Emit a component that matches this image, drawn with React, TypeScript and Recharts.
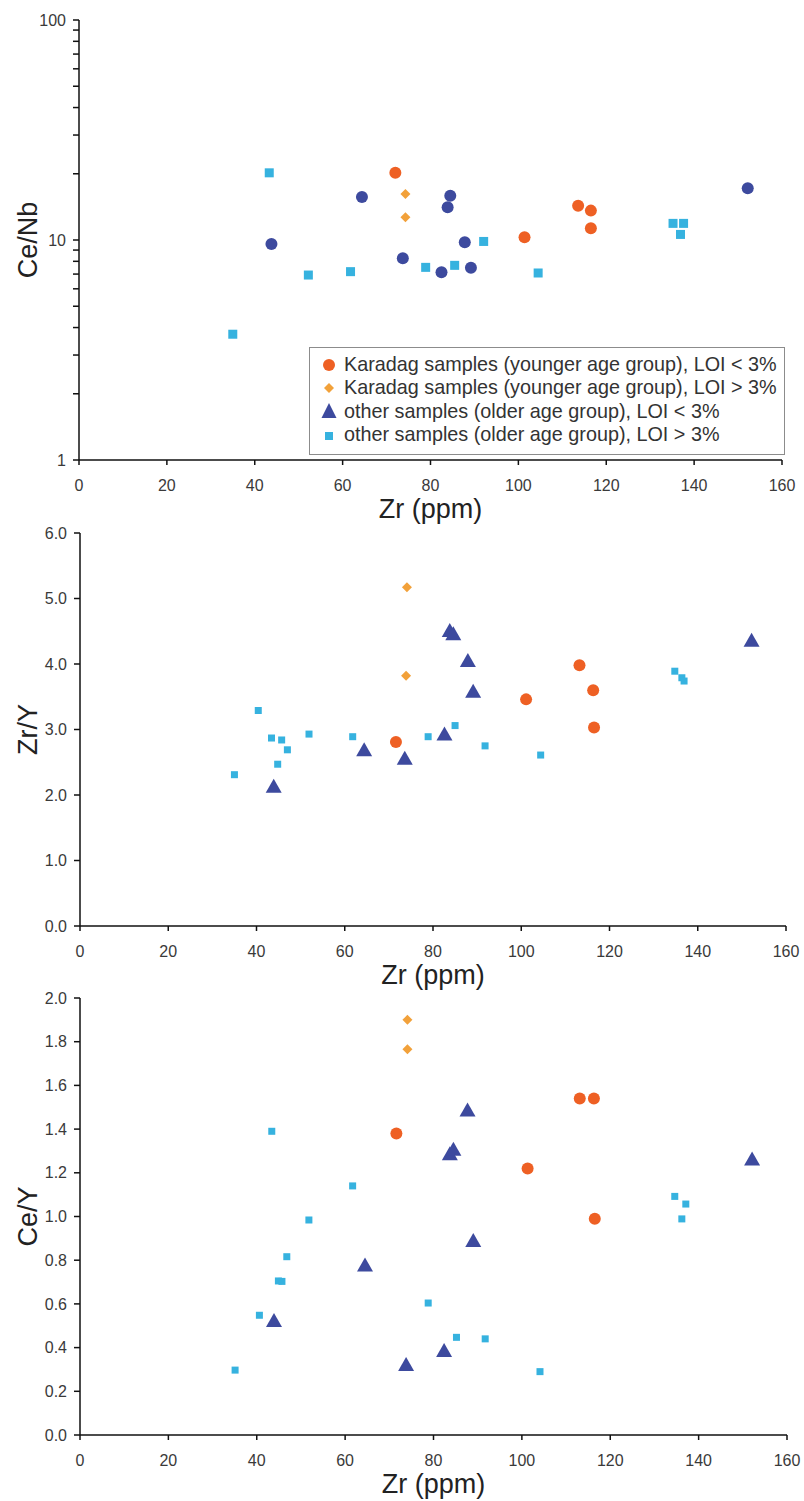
import { ScatterChart, Scatter, XAxis, YAxis, Legend, Label } from "recharts";

const font = "Arial, 'Liberation Sans', sans-serif";

const colors = {
  karadagLow: "#EE6024", // Karadag, LOI < 3%
  karadagHigh: "#F2A13A", // Karadag, LOI > 3%
  otherLow: "#3D4A9E", // other samples, LOI < 3%
  otherHigh: "#36B2DF", // other samples, LOI > 3%
};

const legendLabels = [
  "Karadag samples (younger age group), LOI < 3%",
  "Karadag samples (younger age group), LOI > 3%",
  "other samples (older age group), LOI < 3%",
  "other samples (older age group), LOI > 3%",
];

const zrTicks = [0, 20, 40, 60, 80, 100, 120, 140, 160];
const ceNbTicks = [1, 2, 3, 4, 5, 6, 7, 8, 9, 10, 20, 30, 40, 50, 60, 70, 80, 90, 100];
const zrYTicks = [0, 1, 2, 3, 4, 5, 6];
const ceYTicks = [0, 0.2, 0.4, 0.6, 0.8, 1.0, 1.2, 1.4, 1.6, 1.8, 2.0];

type Pt = [number, number]; // [Zr ppm, ratio]

// Ce/Nb vs Zr
const ceNbKaradagLow: Pt[] = [[72.0, 20.2], [101.4, 10.3], [113.6, 14.3], [116.5, 13.6], [116.5, 11.3]];
const ceNbKaradagHigh: Pt[] = [[74.3, 16.2], [74.3, 12.7]];
const ceNbOtherLow: Pt[] = [
  [43.8, 9.6], [64.4, 15.7], [73.7, 8.26], [82.5, 7.13], [83.9, 14.1],
  [84.5, 15.9], [87.8, 9.77], [89.2, 7.48], [152.2, 17.2],
];
const ceNbOtherHigh: Pt[] = [
  [35.0, 3.73], [43.3, 20.2], [52.2, 6.93], [61.8, 7.18], [78.9, 7.51], [85.5, 7.67],
  [92.1, 9.85], [104.5, 7.08], [135.2, 11.9], [137.6, 11.9], [136.9, 10.6],
];

// Zr/Y vs Zr
const zrYKaradagLow: Pt[] = [[71.6, 2.81], [101.1, 3.46], [113.2, 3.98], [116.3, 3.6], [116.5, 3.03]];
const zrYKaradagHigh: Pt[] = [[74.1, 5.17], [73.9, 3.82]];
const zrYOtherLow: Pt[] = [
  [43.9, 2.14], [64.4, 2.7], [73.6, 2.57], [82.6, 2.94], [83.8, 4.52],
  [84.6, 4.47], [87.9, 4.06], [89.1, 3.59], [152.2, 4.37],
];
const zrYOtherHigh: Pt[] = [
  [35.0, 2.31], [40.4, 3.29], [43.4, 2.87], [44.8, 2.47], [45.7, 2.84], [47.0, 2.69],
  [51.9, 2.93], [61.8, 2.89], [78.9, 2.89], [85.0, 3.06], [91.8, 2.75], [104.4, 2.61],
  [134.8, 3.89], [136.4, 3.79], [136.9, 3.74],
];

// Ce/Y vs Zr
const ceYKaradagLow: Pt[] = [[71.6, 1.38], [101.3, 1.22], [113.1, 1.54], [116.3, 1.54], [116.5, 0.99]];
const ceYKaradagHigh: Pt[] = [[74.1, 1.9], [74.1, 1.765]];
const ceYOtherLow: Pt[] = [
  [43.9, 0.526], [64.5, 0.78], [73.8, 0.325], [82.4, 0.389], [83.7, 1.29],
  [84.5, 1.31], [87.7, 1.49], [89.0, 0.892], [152.1, 1.266],
];
const ceYOtherHigh: Pt[] = [
  [35.1, 0.297], [40.6, 0.548], [43.4, 1.39], [44.9, 0.705], [45.7, 0.703], [46.8, 0.816],
  [51.8, 0.984], [61.7, 1.14], [78.8, 0.604], [85.2, 0.447], [91.7, 0.44], [104.1, 0.29],
  [134.6, 1.092], [136.2, 0.989], [137.1, 1.057],
];

const toRows = (pts: Pt[]) => pts.map(([x, y]) => ({ x, y }));

// marker shapes
const circleShape = (r: number, fill: string) => (p: any) => (
  <circle cx={p.cx} cy={p.cy} r={r} fill={fill} />
);
const diamondShape = (s: number, fill: string) => (p: any) => (
  <polygon
    points={`${p.cx},${p.cy - s} ${p.cx + s},${p.cy} ${p.cx},${p.cy + s} ${p.cx - s},${p.cy}`}
    fill={fill}
  />
);
const triangleShape = (w: number, h: number, fill: string) => (p: any) => (
  <polygon
    points={`${p.cx},${p.cy - h / 2} ${p.cx + w / 2},${p.cy + h / 2} ${p.cx - w / 2},${p.cy + h / 2}`}
    fill={fill}
  />
);
const squareShape = (s: number, fill: string) => (p: any) => (
  <rect x={p.cx - s / 2} y={p.cy - s / 2} width={s} height={s} fill={fill} />
);

const legendMarkers = [
  <circle cx={11} cy={11} r={6} fill={colors.karadagLow} />,
  <polygon points="11,6 16,11 11,16 6,11" fill={colors.karadagHigh} />,
  <polygon points="11,3 18.5,18 3.5,18" fill={colors.otherLow} />,
  <rect x={7} y={8} width={8} height={8} fill={colors.otherHigh} />,
];

function LegendBox() {
  return (
    <div
      style={{
        boxSizing: "border-box",
        width: 476,
        height: 108,
        border: "1.5px solid #8c8c8c",
        background: "#fff",
        padding: "5px 0 0 8px",
        fontFamily: font,
        fontSize: 19.8,
        color: "#333",
      }}
    >
      {legendLabels.map((label, i) => (
        <div key={label} style={{ display: "flex", alignItems: "center", height: 23.3 }}>
          <svg width={22} height={22} style={{ marginRight: 4, flexShrink: 0 }}>
            {legendMarkers[i]}
          </svg>
          <span style={{ whiteSpace: "nowrap" }}>{label}</span>
        </div>
      ))}
    </div>
  );
}

const yTitle = (text: string) => (props: any) => {
  const vb = props.viewBox;
  const x = 28;
  const y = vb.y + vb.height / 2;
  return (
    <text
      x={x}
      y={y}
      transform={`rotate(-90, ${x}, ${y})`}
      textAnchor="middle"
      dominantBaseline="central"
      fontSize={27}
      fontFamily={font}
      fill="#222"
    >
      {text}
    </text>
  );
};

const xTitle = (props: any) => {
  const vb = props.viewBox;
  return (
    <text
      x={vb.x + vb.width / 2}
      y={vb.y + 58}
      textAnchor="middle"
      fontSize={27}
      fontFamily={font}
      fill="#222"
    >
      Zr (ppm)
    </text>
  );
};

const axisStroke = { stroke: "#111", strokeWidth: 1.5 };
const tickStyle = { fill: "#3a3a3a", fontSize: 16, fontFamily: font };

interface RatioChartProps {
  top: number;
  height: number;
  margin: { top: number; right: number; bottom: number; left: number };
  axisWidth: number;
  title: string;
  yProps: any;
  karadagLow: Pt[];
  karadagHigh: Pt[];
  otherLow: Pt[];
  otherHigh: Pt[];
  otherLowShape: (p: any) => any;
  squareSize: number;
  showLegend?: boolean;
}

function RatioChart(props: RatioChartProps) {
  return (
    <div style={{ position: "absolute", left: 0, top: props.top }}>
      <ScatterChart width={804} height={props.height} margin={props.margin}>
        <XAxis
          type="number"
          dataKey="x"
          domain={[0, 160]}
          ticks={zrTicks}
          interval={0}
          height={30}
          axisLine={axisStroke}
          tickLine={axisStroke}
          tickSize={5}
          tickMargin={15}
          tick={tickStyle}
        >
          <Label content={xTitle} />
        </XAxis>
        <YAxis
          type="number"
          dataKey="y"
          width={props.axisWidth}
          interval={0}
          axisLine={axisStroke}
          tickLine={axisStroke}
          tickSize={6}
          tickMargin={7}
          tick={tickStyle}
          allowDataOverflow
          {...props.yProps}
        >
          <Label content={yTitle(props.title)} />
        </YAxis>
        {props.showLegend && (
          <Legend
            verticalAlign="middle"
            align="center"
            content={() => <LegendBox />}
            wrapperStyle={{ left: 309, top: 347, width: 476, height: 108 }}
          />
        )}
        <Scatter
          name={legendLabels[3]}
          data={toRows(props.otherHigh)}
          shape={squareShape(props.squareSize, colors.otherHigh)}
          isAnimationActive={false}
        />
        <Scatter
          name={legendLabels[2]}
          data={toRows(props.otherLow)}
          shape={props.otherLowShape}
          isAnimationActive={false}
        />
        <Scatter
          name={legendLabels[1]}
          data={toRows(props.karadagHigh)}
          shape={diamondShape(5, colors.karadagHigh)}
          isAnimationActive={false}
        />
        <Scatter
          name={legendLabels[0]}
          data={toRows(props.karadagLow)}
          shape={circleShape(6, colors.karadagLow)}
          isAnimationActive={false}
        />
      </ScatterChart>
    </div>
  );
}

export default function App() {
  return (
    <div
      style={{
        position: "absolute",
        left: 0,
        top: 0,
        width: 804,
        height: 1501,
        background: "#fff",
        overflow: "hidden",
      }}
    >
      <RatioChart
        top={0}
        height={530}
        margin={{ top: 20, right: 22, bottom: 40, left: 0 }}
        axisWidth={79}
        title="Ce/Nb"
        yProps={{
          scale: "log",
          domain: [1, 100],
          ticks: ceNbTicks,
          tickFormatter: (v: number) => (v === 1 || v === 10 || v === 100 ? String(v) : ""),
        }}
        karadagLow={ceNbKaradagLow}
        karadagHigh={ceNbKaradagHigh}
        otherLow={ceNbOtherLow}
        otherHigh={ceNbOtherHigh}
        otherLowShape={circleShape(6, colors.otherLow)}
        squareSize={9}
        showLegend
      />
      <RatioChart
        top={510}
        height={486}
        margin={{ top: 23, right: 18, bottom: 40, left: 0 }}
        axisWidth={80}
        title="Zr/Y"
        yProps={{
          domain: [0, 6],
          ticks: zrYTicks,
          tickFormatter: (v: number) => v.toFixed(1),
        }}
        karadagLow={zrYKaradagLow}
        karadagHigh={zrYKaradagHigh}
        otherLow={zrYOtherLow}
        otherHigh={zrYOtherHigh}
        otherLowShape={triangleShape(16, 14, colors.otherLow)}
        squareSize={7}
      />
      <RatioChart
        top={975}
        height={526}
        margin={{ top: 23, right: 17, bottom: 36, left: 0 }}
        axisWidth={80}
        title="Ce/Y"
        yProps={{
          domain: [0, 2],
          ticks: ceYTicks,
          tickFormatter: (v: number) => v.toFixed(1),
        }}
        karadagLow={ceYKaradagLow}
        karadagHigh={ceYKaradagHigh}
        otherLow={ceYOtherLow}
        otherHigh={ceYOtherHigh}
        otherLowShape={triangleShape(16, 14, colors.otherLow)}
        squareSize={7}
      />
    </div>
  );
}
